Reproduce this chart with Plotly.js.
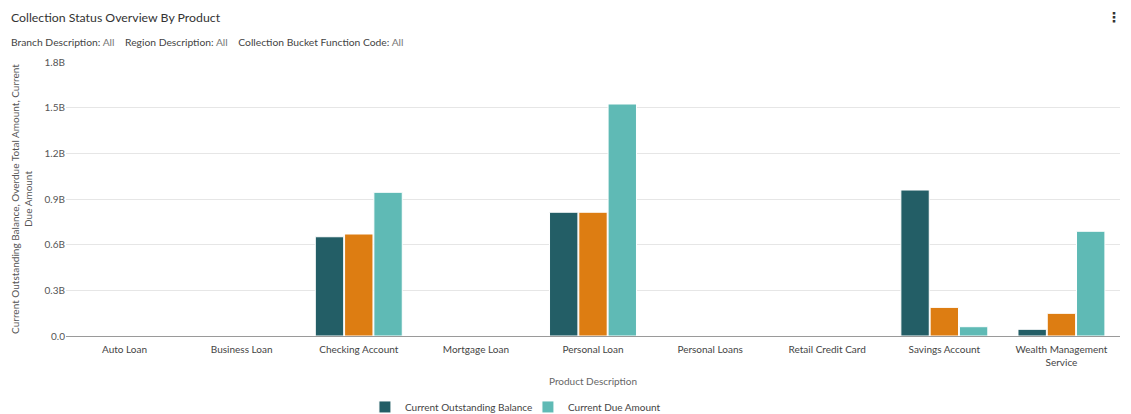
<!DOCTYPE html>
<html>
<head>
<meta charset="utf-8">
<script src="https://cdn.plot.ly/plotly-3.0.1.min.js"></script>
<style>html,body{margin:0;padding:0;background:#fff;}#chart{width:1131px;height:414px;}</style>
</head>
<body>
<div id="chart"></div>
<script>
const categories = ["Auto Loan","Business Loan","Checking Account","Mortgage Loan","Personal Loan","Personal Loans","Retail Credit Card","Savings Account","Wealth Management<br>Service"];
const outstandingBalance = [0,0,0.652e9,0,0.813e9,0,0,0.959e9,0.044e9];
const overdueTotal = [0,0,0.670e9,0,0.813e9,0,0,0.188e9,0.149e9];
const currentDue = [0,0,0.944e9,0,1.524e9,0,0,0.061e9,0.688e9];
const yTickVals = [0,0.3e9,0.6e9,0.9e9,1.2e9,1.5e9,1.8e9];
const yTickText = ["0.0","0.3B","0.6B","0.9B","1.2B","1.5B","1.8B"];

const FONT = "Lato, 'Open Sans', sans-serif";
const traces = [
  {type:"bar", name:"Current Outstanding Balance", x:categories, y:outstandingBalance,
   marker:{color:"#235e66", line:{color:"#ffffff", width:1}}, hoverinfo:"none"},
  {type:"bar", name:"Overdue Total Amount", x:categories, y:overdueTotal, showlegend:false,
   marker:{color:"#dd7d12", line:{color:"#ffffff", width:1}}, hoverinfo:"none"},
  {type:"bar", name:"Current Due Amount", x:categories, y:currentDue,
   marker:{color:"#5fbab5", line:{color:"#ffffff", width:1}}, hoverinfo:"none"}
];
const layout = {
  width:1131, height:414,
  margin:{l:66, r:11, t:62, b:78, autoexpand:false},
  paper_bgcolor:"#fff", plot_bgcolor:"#fff",
  font:{family:FONT, size:10, color:"#555"},
  barmode:"group", bargap:0.25, bargroupgap:0.03,
  showlegend:true,
  legend:{orientation:"h", x:0.4668, xref:"container", xanchor:"center", y:0.017, yref:"container", yanchor:"middle",
          font:{size:10, color:"#444"}, traceorder:"normal", entrywidth:118, entrywidthmode:"pixels"},
  xaxis:{type:"category", automargin:false, tickfont:{size:10, color:"#444"}, showgrid:false,
         ticks:"", showline:true, linecolor:"#9a9a9a", linewidth:1, ticklabelstandoff:4,
         title:{text:"Product Description", font:{size:10, color:"#666"}, standoff:10}},
  yaxis:{range:[0,1.8e9], automargin:false, tickvals:yTickVals, ticktext:yTickText,
         tickfont:{size:10, color:"#555"}, gridcolor:"#e6e6e6", gridwidth:1,
         zeroline:false, showline:false, ticks:"", ticklen:0,
         title:{text:"Current Outstanding Balance, Overdue Total Amount, Current<br>Due Amount", font:{size:10, color:"#555"}, standoff:10}},
  annotations:[
    {xref:"paper", yref:"paper", x:0, y:1.0, xanchor:"left", yanchor:"middle", xshift:-57, yshift:45,
     text:"Collection Status Overview By Product", showarrow:false, align:"left",
     font:{family:FONT, size:12.3, color:"#333"}},
    {xref:"paper", yref:"paper", x:0, y:1.0, xanchor:"left", yanchor:"middle", xshift:-57, yshift:20,
     text:"<span style='color:#444'>Branch Description:</span><span style='color:#777'> All</span>&nbsp;&nbsp;&nbsp;&nbsp;<span style='color:#444'>Region Description:</span><span style='color:#777'> All</span>&nbsp;&nbsp;&nbsp;&nbsp;<span style='color:#444'>Collection Bucket Function Code:</span><span style='color:#777'> All</span>",
     showarrow:false, align:"left", font:{family:FONT, size:10.3, color:"#444"}},
    {xref:"paper", yref:"paper", x:1.0, y:1.0, xanchor:"center", yanchor:"middle", yshift:45, xshift:-6,
     text:"<b>⋮</b>", showarrow:false, font:{family:"DejaVu Sans", size:14, color:"#333"}}
  ]
};
Plotly.newPlot("chart", traces, layout, {displayModeBar:false, staticPlot:true});
</script>
</body>
</html>
